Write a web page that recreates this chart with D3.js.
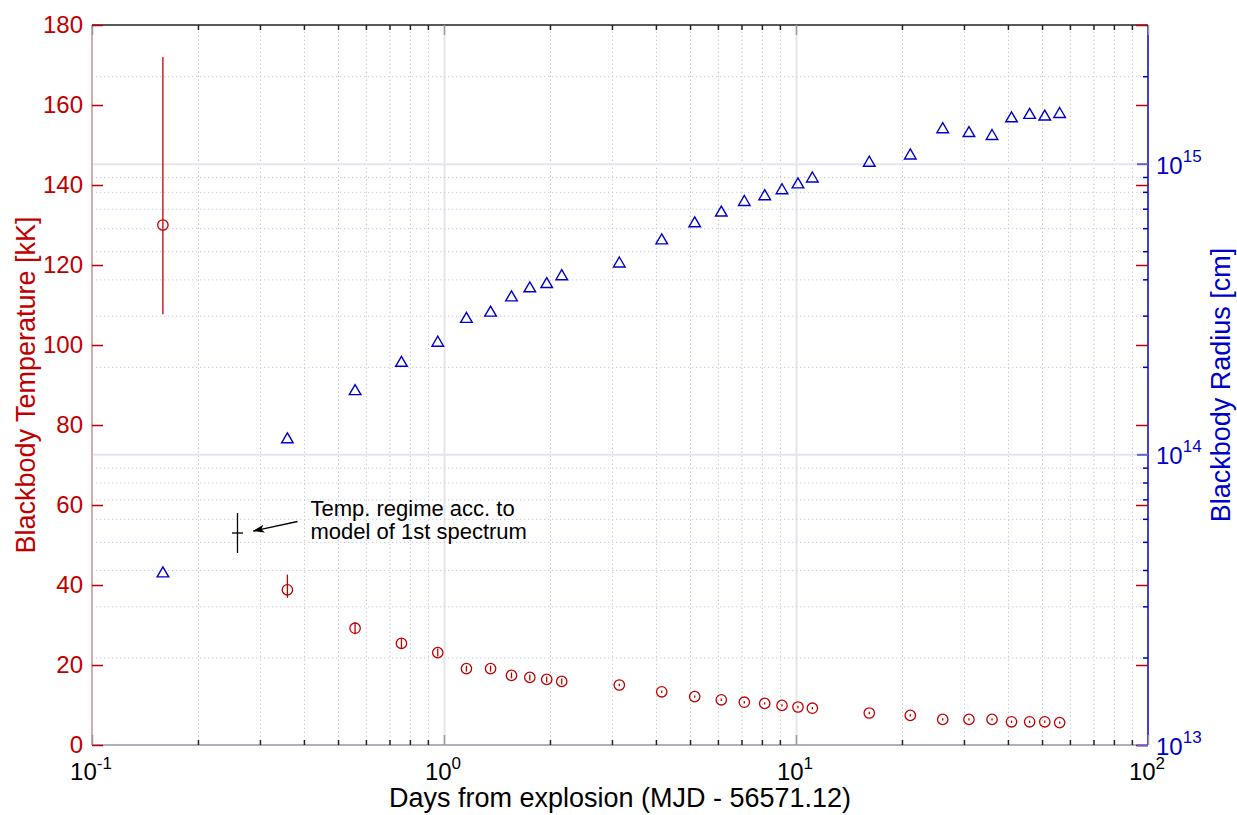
<!DOCTYPE html>
<html>
<head>
<meta charset="utf-8">
<script src="https://cdnjs.cloudflare.com/ajax/libs/d3/7.8.5/d3.min.js"></script>
<style>
  body { margin: 0; background: #fff; }
  text { font-family: "Liberation Sans", Arial, Helvetica, sans-serif; }
</style>
</head>
<body>
<script>
// data
var days = [0.159, 0.359, 0.559, 0.757, 0.960, 1.158, 1.356, 1.555, 1.753, 1.958, 2.160,
            3.148, 4.155, 5.155, 6.134, 7.131, 8.149, 9.125, 10.13, 11.13,
            16.15, 21.12, 26.11, 31.0, 36.05, 40.95, 46.1, 50.9, 56.1];
var tempKK = [130.0, 38.8, 29.2, 25.4, 23.1, 19.1, 19.1, 17.4, 16.9, 16.4, 15.9,
              15.0, 13.3, 12.1, 11.3, 10.7, 10.4, 9.9, 9.5, 9.2,
              8.0, 7.4, 6.4, 6.4, 6.4, 5.8, 5.8, 5.8, 5.6];
var tempErrUp = [42.0, 3.8, 1.5, 1.3, 1.0, 0.75, 0.75, 0.75, 0.75, 0.75, 0.75,
                 0.3, 0.3, 0.3, 0.3, 0.3, 0.3, 0.3, 0.3, 0.3,
                 0.3, 0.3, 0.3, 0.3, 0.3, 0.3, 0.3, 0.3, 0.3];
var tempErrDown = [22.3, 2.0, 1.5, 1.3, 1.0, 0.75, 0.75, 0.75, 0.75, 0.75, 0.75,
                   0.3, 0.3, 0.3, 0.3, 0.3, 0.3, 0.3, 0.3, 0.3,
                   0.3, 0.3, 0.3, 0.3, 0.3, 0.3, 0.3, 0.3, 0.3];
var radiusCm = [3.94e13, 1.14e14, 1.67e14, 2.09e14, 2.45e14, 2.96e14, 3.11e14, 3.51e14, 3.77e14, 3.90e14, 4.15e14,
                4.59e14, 5.51e14, 6.31e14, 6.87e14, 7.47e14, 7.82e14, 8.20e14, 8.59e14, 9.00e14,
                1.02e15, 1.08e15, 1.33e15, 1.29e15, 1.26e15, 1.45e15, 1.49e15, 1.47e15, 1.50e15];

// temperature regime from the model of the 1st spectrum
var modelDay = [0.259];
var modelTemp = [53];
var modelLow = [48];
var modelHigh = [58];

var xMajor = [0.1, 1, 10, 100];
var xMajorExp = ["-1", "0", "1", "2"];
var tempTicks = [0, 20, 40, 60, 80, 100, 120, 140, 160, 180];
var radiusMajor = [1e13, 1e14, 1e15];
var radiusMajorExp = ["13", "14", "15"];

var red = "#c00000", blue = "#0000c8";

var width = 1237, height = 815,
    margin = {top: 25, right: 89, bottom: 70, left: 92},
    plotW = width - margin.left - margin.right,
    plotH = height - margin.top - margin.bottom;

var x = d3.scaleLog().domain([0.1, 100]).range([0, plotW]);
var yT = d3.scaleLinear().domain([0, 180]).range([plotH, 0]);
var yR = d3.scaleLog().domain([1e13, 3e15]).range([plotH, 0]);

var svg = d3.select("body").append("svg")
    .attr("width", width)
    .attr("height", height)
  .append("g")
    .attr("transform", "translate(" + margin.left + "," + margin.top + ")");

var xMinor = x.ticks().filter(function(d) { return xMajor.indexOf(d) < 0; });
var rMinor = yR.ticks().filter(function(d) { return radiusMajor.indexOf(d) < 0 && d < 3e15; });

// vertical grid (minor dotted, major solid)
svg.append("g")
    .attr("transform", "translate(0," + plotH + ")")
    .call(d3.axisBottom(x).tickValues(xMinor).tickSize(-plotH).tickFormat(""))
    .call(function(g) {
      g.select(".domain").remove();
      g.selectAll("line").attr("stroke", "#c4c4c4").attr("stroke-dasharray", "1.3,2.7");
    });
svg.append("g")
    .attr("transform", "translate(0," + plotH + ")")
    .call(d3.axisBottom(x).tickValues([1, 10]).tickSize(-plotH).tickFormat(""))
    .call(function(g) {
      g.select(".domain").remove();
      g.selectAll("line").attr("stroke", "#e6e6ea").attr("stroke-width", 2);
    });

// horizontal grid from the radius axis
svg.append("g")
    .call(d3.axisLeft(yR).tickValues(rMinor).tickSize(-plotW).tickFormat(""))
    .call(function(g) {
      g.select(".domain").remove();
      g.selectAll("line").attr("stroke", "#c8c8f0").attr("stroke-dasharray", "1.3,2.7");
    });
svg.append("g")
    .call(d3.axisLeft(yR).tickValues([1e14, 1e15]).tickSize(-plotW).tickFormat(""))
    .call(function(g) {
      g.select(".domain").remove();
      g.selectAll("line").attr("stroke", "#e4e4f4").attr("stroke-width", 2);
    });

// box
svg.append("line").attr("x1", 0).attr("x2", plotW).attr("y1", 0).attr("y2", 0)
    .attr("stroke", "#222").attr("stroke-width", 1.5);
svg.append("line").attr("x1", 0).attr("x2", 0).attr("y1", 0).attr("y2", plotH)
    .attr("stroke", "#d4acac").attr("stroke-width", 2);
svg.append("line").attr("x1", 0).attr("x2", plotW).attr("y1", plotH).attr("y2", plotH)
    .attr("stroke", "#aeaec4").attr("stroke-width", 2);
svg.append("line").attr("x1", plotW).attr("x2", plotW).attr("y1", 0).attr("y2", plotH)
    .attr("stroke", blue).attr("stroke-width", 1.5);

// x ticks, bottom and top, inward
function xTicks(axisFn, ty) {
  svg.append("g")
      .attr("transform", "translate(0," + ty + ")")
      .call(axisFn(x).tickValues(xMinor).tickSize(-5).tickFormat(""))
      .call(function(g) {
        g.select(".domain").remove();
        g.selectAll("line").attr("stroke", "#222").attr("stroke-width", 1.5);
      });
  svg.append("g")
      .attr("transform", "translate(0," + ty + ")")
      .call(axisFn(x).tickValues(xMajor).tickSize(-10).tickFormat(""))
      .call(function(g) {
        g.select(".domain").remove();
        g.selectAll("line").attr("stroke", "#999").attr("stroke-width", 1.5);
      });
}
xTicks(d3.axisBottom, plotH);
xTicks(d3.axisTop, 0);

// x tick labels 10^n
svg.append("g").selectAll("text")
    .data(xMajor)
  .enter().append("text")
    .attr("x", function(d) { return x(d) - 1; })
    .attr("y", plotH + 35)
    .attr("text-anchor", "middle")
    .attr("font-size", 24)
    .attr("fill", "#000")
    .each(function(d, i) {
      var t = d3.select(this);
      t.append("tspan").text("10");
      t.append("tspan").attr("dy", -11).attr("font-size", 17).text(xMajorExp[i]);
    });

// temperature axis: red ticks on both sides, labels on the left
svg.append("g")
    .call(d3.axisLeft(yT).tickValues(tempTicks).tickSize(-11).tickPadding(9))
    .call(function(g) {
      g.select(".domain").remove();
      g.selectAll("line").attr("stroke", red).attr("stroke-width", 1.5);
      g.selectAll("text").attr("fill", red).attr("font-size", 24)
        .style("font-family", "\"Liberation Sans\", Arial, sans-serif");
    });
svg.append("g")
    .attr("transform", "translate(" + plotW + ",0)")
    .call(d3.axisRight(yT).tickValues(tempTicks).tickSize(-12).tickFormat(""))
    .call(function(g) {
      g.select(".domain").remove();
      g.selectAll("line").attr("stroke", red).attr("stroke-width", 1.5);
    });

// radius axis: blue ticks on the right
svg.append("g")
    .attr("transform", "translate(" + plotW + ",0)")
    .call(d3.axisRight(yR).tickValues(rMinor).tickSize(-5).tickFormat(""))
    .call(function(g) {
      g.select(".domain").remove();
      g.selectAll("line").attr("stroke", blue).attr("stroke-width", 1.5);
    });
svg.append("g")
    .attr("transform", "translate(" + plotW + ",0)")
    .call(d3.axisRight(yR).tickValues(radiusMajor).tickSize(-11).tickFormat(""))
    .call(function(g) {
      g.select(".domain").remove();
      g.selectAll("line").attr("stroke", "#6464d0").attr("stroke-width", 2);
    });
svg.append("g").selectAll("text")
    .data(radiusMajor)
  .enter().append("text")
    .attr("x", plotW + 8)
    .attr("y", function(d) { return yR(d) + 10; })
    .attr("font-size", 24)
    .attr("fill", blue)
    .each(function(d, i) {
      var t = d3.select(this);
      t.append("tspan").text("10");
      t.append("tspan").attr("dy", -12).attr("font-size", 17).text(radiusMajorExp[i]);
    });

// temperature error bars and circles
var tempData = days.map(function(d, i) {
  return {day: d, t: tempKK[i], up: tempErrUp[i], down: tempErrDown[i]};
});
svg.append("g").selectAll("line")
    .data(tempData)
  .enter().append("line")
    .attr("x1", function(d) { return x(d.day); })
    .attr("x2", function(d) { return x(d.day); })
    .attr("y1", function(d) { return yT(d.t + d.up); })
    .attr("y2", function(d) { return yT(d.t - d.down); })
    .attr("stroke", red)
    .attr("stroke-width", 1.3);
svg.append("g").selectAll("circle")
    .data(tempData)
  .enter().append("circle")
    .attr("cx", function(d) { return x(d.day); })
    .attr("cy", function(d) { return yT(d.t); })
    .attr("r", 5.2)
    .attr("fill", "none")
    .attr("stroke", red)
    .attr("stroke-width", 1.3);

// radius triangles
svg.append("g").selectAll("path")
    .data(days)
  .enter().append("path")
    .attr("transform", function(d, i) { return "translate(" + x(d) + "," + yR(radiusCm[i]) + ")"; })
    .attr("d", "M0,-5L5.8,5L-5.8,5Z")
    .attr("fill", "none")
    .attr("stroke", blue)
    .attr("stroke-width", 1.4);

// model regime marker (+ with range)
var mx = x(modelDay[0]), my = yT(modelTemp[0]);
svg.append("line")
    .attr("x1", mx).attr("x2", mx)
    .attr("y1", yT(modelHigh[0])).attr("y2", yT(modelLow[0]))
    .attr("stroke", "#000").attr("stroke-width", 1.3);
svg.append("line")
    .attr("x1", mx - 5.5).attr("x2", mx + 5.5)
    .attr("y1", my).attr("y2", my)
    .attr("stroke", "#000").attr("stroke-width", 1.3);

// annotation arrow and text
svg.append("defs").append("marker")
    .attr("id", "head")
    .attr("viewBox", "0 0 12 8")
    .attr("refX", 11).attr("refY", 4)
    .attr("markerWidth", 12).attr("markerHeight", 8)
    .attr("markerUnits", "userSpaceOnUse")
    .attr("orient", "auto")
  .append("path")
    .attr("d", "M0,0L12,4L0,8L3,4Z")
    .attr("fill", "#000");
svg.append("line")
    .attr("x1", mx + 60).attr("y1", my - 11.5)
    .attr("x2", mx + 16).attr("y2", my - 2)
    .attr("stroke", "#000").attr("stroke-width", 1.3)
    .attr("marker-end", "url(#head)");
svg.append("text")
    .attr("x", mx + 73).attr("y", my - 17)
    .attr("font-size", 22)
    .text("Temp. regime acc. to");
svg.append("text")
    .attr("x", mx + 73).attr("y", my + 5.5)
    .attr("font-size", 22)
    .text("model of 1st spectrum");

// axis titles
svg.append("text")
    .attr("x", plotW / 2)
    .attr("y", plotH + 62)
    .attr("text-anchor", "middle")
    .attr("font-size", 27)
    .text("Days from explosion (MJD - 56571.12)");
svg.append("text")
    .attr("transform", "translate(" + (35 - margin.left) + "," + (plotH / 2) + ") rotate(-90)")
    .attr("text-anchor", "middle")
    .attr("font-size", 27)
    .attr("fill", red)
    .text("Blackbody Temperature [kK]");
svg.append("text")
    .attr("transform", "translate(" + (plotW + 82) + "," + (plotH / 2) + ") rotate(-90)")
    .attr("text-anchor", "middle")
    .attr("font-size", 27)
    .attr("fill", blue)
    .text("Blackbody Radius [cm]");
</script>
</body>
</html>
